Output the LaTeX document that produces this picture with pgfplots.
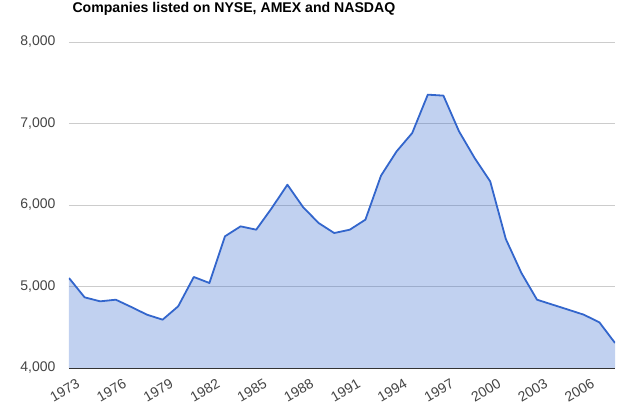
\documentclass[border=0pt]{standalone}
\usepackage{pgfplots}
\pgfplotsset{compat=1.18}
\usepackage{fontspec}
\setmainfont{Liberation Sans}

\definecolor{lineblue}{HTML}{3366CC}
\definecolor{gridgray}{HTML}{CCCCCC}
\definecolor{labelgray}{HTML}{444444}
\definecolor{basegray}{HTML}{333333}

\pgfplotstableread{
year count
1973 5104
1974 4867
1975 4818
1976 4838
1977 4748
1978 4654
1979 4593
1980 4757
1981 5117
1982 5043
1983 5616
1984 5738
1985 5697
1986 5963
1987 6249
1988 5975
1989 5779
1990 5656
1991 5697
1992 5820
1993 6360
1994 6658
1995 6883
1996 7354
1997 7342
1998 6904
1999 6577
2000 6290
2001 5583
2002 5166
2003 4838
2004 4777
2005 4716
2006 4654
2007 4560
2008 4307
}\listings

\begin{document}
\begin{tikzpicture}
\begin{axis}[
    name=ax,
    scale only axis,
    width=546pt, height=326pt,
    xmin=1973, xmax=2008,
    ymin=4000, ymax=8000,
    xtick={1973,1976,...,2006},
    ytick={4000,5000,6000,7000,8000},
    major tick length=0pt,
    axis line style={draw=none},
    ymajorgrids=true,
    grid style={color=gridgray, line width=0.8pt},
    /pgf/number format/assume math mode=true,
    ticklabel style={font=\fontsize{14}{16}\selectfont, color=labelgray},
    yticklabel style={/pgf/number format/1000 sep={,}, xshift=-10pt},
    xticklabel style={/pgf/number format/1000 sep={}, rotate=30, anchor=north east, xshift=4pt, yshift=-9pt},
    title={Companies listed on NYSE, AMEX and NASDAQ},
    title style={font=\bfseries\fontsize{14.1}{16}\selectfont, at={(rel axis cs:0,1)}, anchor=base west, yshift=23pt, xshift=0pt},
]
\addplot[draw=none, fill=lineblue, fill opacity=0.3] table[x=year, y=count] {\listings} \closedcycle;
\addplot[color=lineblue, line width=1.8pt, line join=round] table[x=year, y=count] {\listings};
\draw[color=basegray, line width=1pt] (rel axis cs:0,0) -- (rel axis cs:1,0);
\end{axis}
\pgfresetboundingbox
\path (ax.south west) ++(-69pt,-41pt) coordinate (bbl);
\path (ax.north east) ++(5pt,42pt) coordinate (bbr);
\useasboundingbox (bbl) rectangle (bbr);
\end{tikzpicture}
\end{document}
